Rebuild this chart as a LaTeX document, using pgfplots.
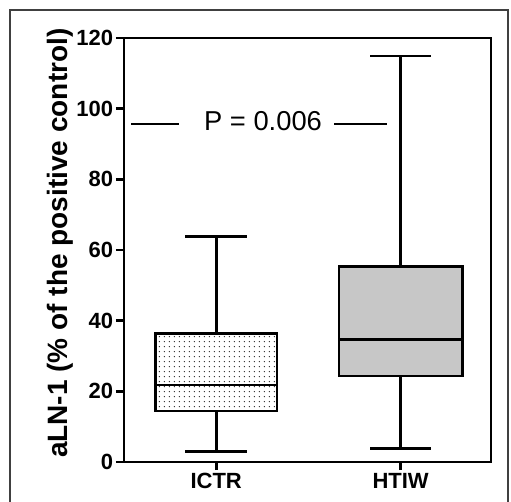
\documentclass[border=0pt]{standalone}
\usepackage{pgfplots}
\pgfplotsset{compat=1.18}
\usepgfplotslibrary{statistics}
\usetikzlibrary{patterns.meta}
\usepackage{fontspec}
\setmainfont{Liberation Sans}
\begin{document}
\begin{tikzpicture}
% 1 px of the reference = 0.75pt
\useasboundingbox (0,0) rectangle (383.25pt,-375.75pt);
\draw[black!75, line width=0.9pt] (7.5pt,-400pt) -- (7.5pt,-7.5pt) -- (381pt,-7.5pt) -- (381pt,-400pt);
\begin{axis}[
    at={(93pt,-346.5pt)}, anchor=south west,
    scale only axis, width=275.25pt, height=318pt,
    xmin=-0.5, xmax=1.49, ymin=0, ymax=120,
    axis line style={line width=2pt},
    tick pos=left, tick align=outside,
    major tick length=6pt,
    tick style={line width=2pt, black},
    ytick={0,20,...,120},
    xtick={0,1}, xticklabels={ICTR,HTIW},
    /pgf/number format/assume math mode=true,
    ticklabel style={font=\fontsize{16.5}{19}\selectfont\bfseries},
    yticklabel style={inner sep=2pt},
    xticklabel style={inner sep=2pt},
    ylabel={aLN-1 (\% of the positive control)},
    ylabel style={font=\fontsize{21}{24}\selectfont\bfseries,
        at={(axis description cs:-0.174,0.516)}, anchor=center},
    boxplot/draw direction=y,
]
\addplot+[black, solid, line width=2pt, mark=none,
    boxplot/every box/.style={fill=white, postaction={pattern={Dots[radius=0.55pt, distance=4pt]}, pattern color=black!85}},
    boxplot/every median/.style={draw=black, line width=2.2pt},
    boxplot prepared={draw position=0, median=21.8, upper quartile=36.3,
        lower quartile=14.4, upper whisker=63.8, lower whisker=2.9,
        box extend=0.66, whisker extend=0.337}]
    coordinates {};
\addplot+[black, solid, line width=2pt, mark=none, fill=black!22,
    boxplot/every median/.style={draw=black, line width=2.2pt},
    boxplot prepared={draw position=1, median=34.8, upper quartile=55.3,
        lower quartile=24.3, upper whisker=114.9, lower whisker=3.9,
        box extend=0.67, whisker extend=0.33}]
    coordinates {};
\addplot[black, line width=2pt] coordinates {(-0.462,95.7) (-0.201,95.7)};
\addplot[black, line width=2pt] coordinates {(0.641,95.7) (0.924,95.7)};
\node[font=\fontsize{20.5}{23}\selectfont] at (axis cs:0.254,96.6) {P = 0.006};
\end{axis}
\end{tikzpicture}
\end{document}
